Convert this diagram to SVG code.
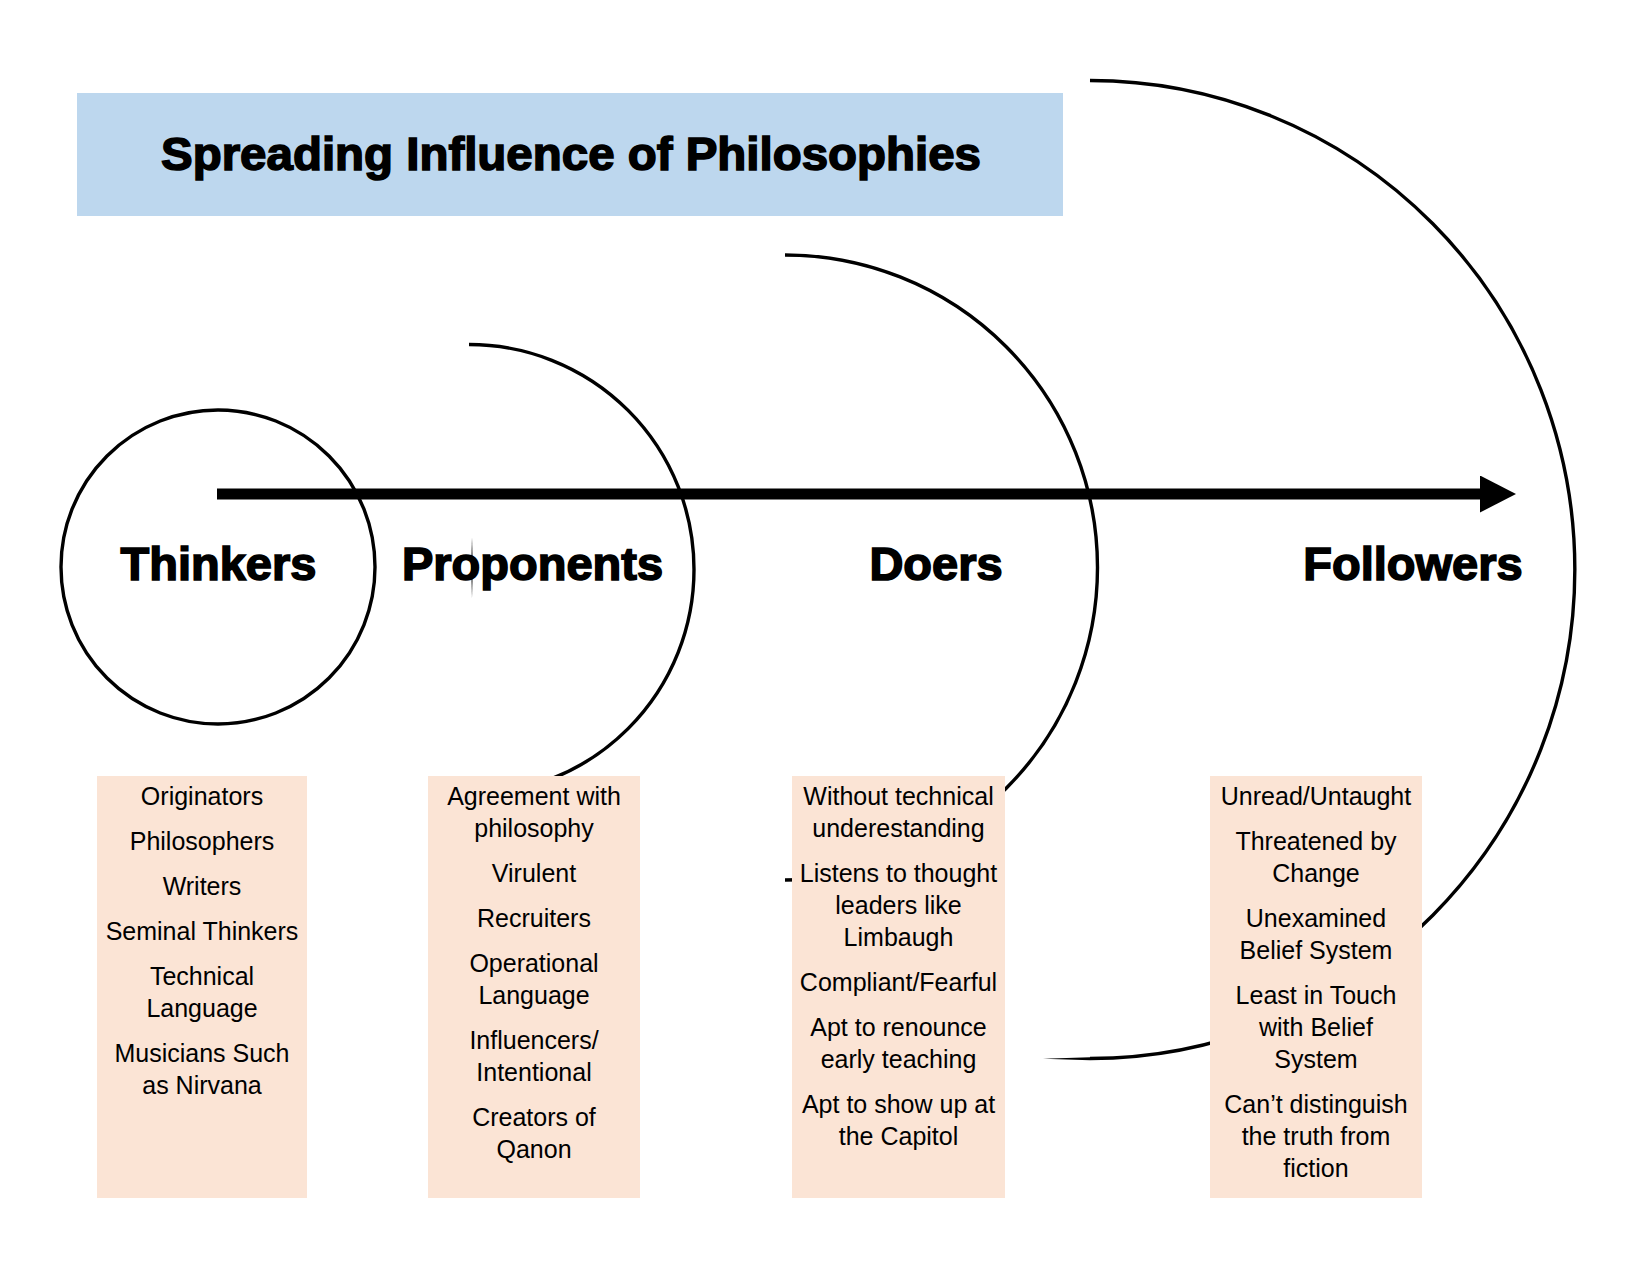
<svg xmlns="http://www.w3.org/2000/svg" width="1650" height="1275" viewBox="0 0 1650 1275">
  <style>
    .title { font-family: "Liberation Sans", Arial, sans-serif; font-weight: bold; font-size: 47px; fill: #000; stroke: #000; stroke-width: 1.6; text-anchor: middle; }
    .label { font-family: "Liberation Sans", Arial, sans-serif; font-weight: bold; font-size: 47px; fill: #000; stroke: #000; stroke-width: 1.6; text-anchor: middle; }
    .item { font-family: "Liberation Sans", Arial, sans-serif; font-size: 25px; fill: #000; text-anchor: middle; }
    .ring { fill: none; stroke: #000; stroke-width: 3.4; }
    .box { fill: #FBE4D5; }
    .titlebox { fill: #BDD7EE; }
  </style>
  <defs>
    <marker id="arrowhead" markerWidth="36" markerHeight="37" refX="0" refY="18.5" orient="auto" markerUnits="userSpaceOnUse">
      <path d="M0,0 L36,18.5 L0,37 Z" fill="#000"/>
    </marker>
  </defs>
  <rect width="1650" height="1275" fill="#fff"/>

  <g id="title">
    <rect class="titlebox" x="77" y="93" width="986" height="123"/>
    <text class="title" x="571" y="170" textLength="820" lengthAdjust="spacingAndGlyphs">Spreading Influence of Philosophies</text>
  </g>

  <g id="thinkers">
    <circle class="ring" cx="218" cy="567" r="157"/>
    <text class="label" x="218.5" y="580">Thinkers</text>
    <rect class="box" x="97" y="776" width="210" height="422"/>
    <text class="item" x="202" y="804.5">Originators</text>
    <text class="item" x="202" y="849.5">Philosophers</text>
    <text class="item" x="202" y="894.5">Writers</text>
    <text class="item" x="202" y="939.5">Seminal Thinkers</text>
    <text class="item" x="202" y="984.5">Technical</text>
    <text class="item" x="202" y="1016.5">Language</text>
    <text class="item" x="202" y="1061.5">Musicians Such</text>
    <text class="item" x="202" y="1093.5">as Nirvana</text>
  </g>

  <g id="proponents">
    <path class="ring" d="M469,344.5 A225,225 0 0 1 469,794.5"/>
    <path d="M472,537 Q473.6,567 472,598 Q470.4,567 472,537 Z" fill="#000"/>
    <text class="label" x="532.5" y="580">Proponents</text>
    <rect class="box" x="428" y="776" width="212" height="422"/>
    <text class="item" x="534" y="804.5">Agreement with</text>
    <text class="item" x="534" y="836.5">philosophy</text>
    <text class="item" x="534" y="881.5">Virulent</text>
    <text class="item" x="534" y="926.5">Recruiters</text>
    <text class="item" x="534" y="971.5">Operational</text>
    <text class="item" x="534" y="1003.5">Language</text>
    <text class="item" x="534" y="1048.5">Influencers/</text>
    <text class="item" x="534" y="1080.5">Intentional</text>
    <text class="item" x="534" y="1125.5">Creators of</text>
    <text class="item" x="534" y="1157.5">Qanon</text>
  </g>

  <g id="doers">
    <path class="ring" d="M785,255 A312.5,312.5 0 0 1 785,880"/>
    <text class="label" x="936" y="580">Doers</text>
    <rect class="box" x="792" y="776" width="213" height="422"/>
    <text class="item" x="898.5" y="804.5">Without technical</text>
    <text class="item" x="898.5" y="836.5">underestanding</text>
    <text class="item" x="898.5" y="881.5">Listens to thought</text>
    <text class="item" x="898.5" y="913.5">leaders like</text>
    <text class="item" x="898.5" y="945.5">Limbaugh</text>
    <text class="item" x="898.5" y="990.5">Compliant/Fearful</text>
    <text class="item" x="898.5" y="1035.5">Apt to renounce</text>
    <text class="item" x="898.5" y="1067.5">early teaching</text>
    <text class="item" x="898.5" y="1112.5">Apt to show up at</text>
    <text class="item" x="898.5" y="1144.5">the Capitol</text>
  </g>

  <g id="followers">
    <path class="ring" d="M1090,80.5 A485,489 0 0 1 1090,1058.5"/>
    <path d="M1090,1057.3 L1043,1058.8 L1090,1060.2 Z" fill="#000"/>
    <text class="label" x="1413" y="580">Followers</text>
    <rect class="box" x="1210" y="776" width="212" height="422"/>
    <text class="item" x="1316" y="804.5">Unread/Untaught</text>
    <text class="item" x="1316" y="849.5">Threatened by</text>
    <text class="item" x="1316" y="881.5">Change</text>
    <text class="item" x="1316" y="926.5">Unexamined</text>
    <text class="item" x="1316" y="958.5">Belief System</text>
    <text class="item" x="1316" y="1003.5">Least in Touch</text>
    <text class="item" x="1316" y="1035.5">with Belief</text>
    <text class="item" x="1316" y="1067.5">System</text>
    <text class="item" x="1316" y="1112.5">Can’t distinguish</text>
    <text class="item" x="1316" y="1144.5">the truth from</text>
    <text class="item" x="1316" y="1176.5">fiction</text>
  </g>

  <g id="connectors">
    <line x1="217" y1="494" x2="1480" y2="494" stroke="#000" stroke-width="11" marker-end="url(#arrowhead)"/>
  </g>
</svg>
